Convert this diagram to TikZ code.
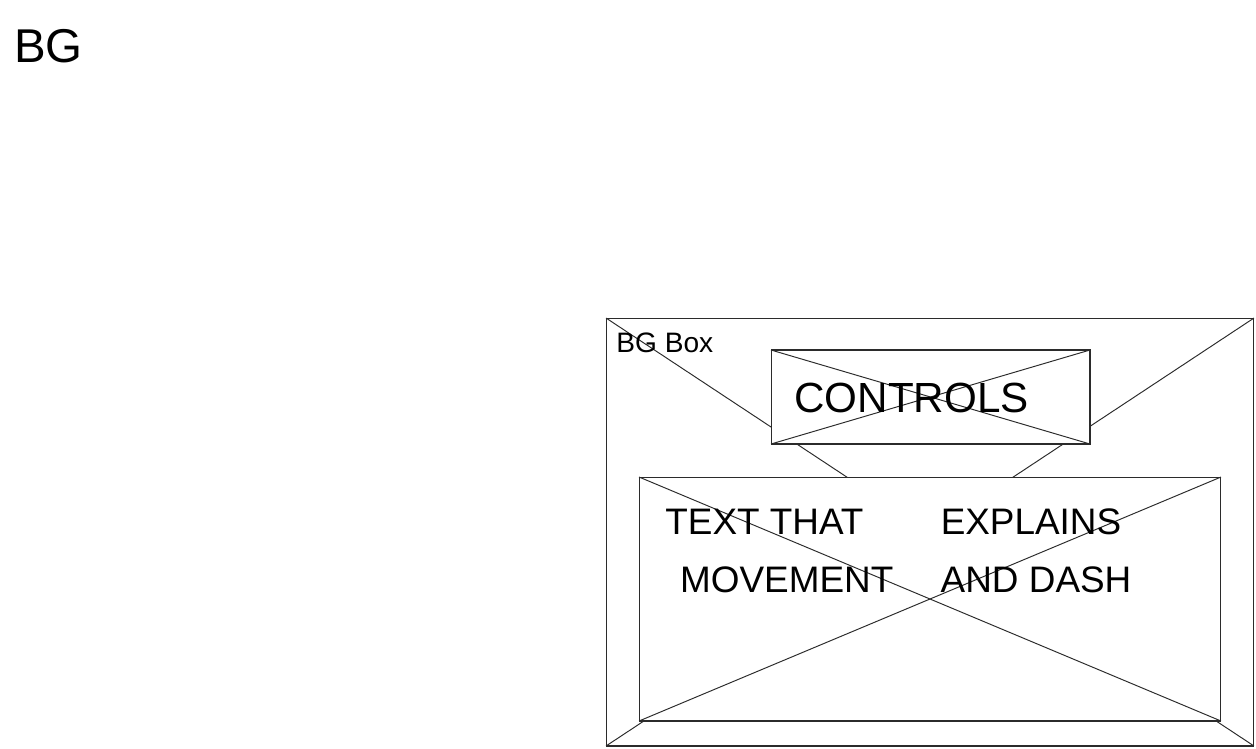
\documentclass[tikz,border=0pt]{standalone}
\usepackage{fontspec}
\setmainfont{Liberation Sans}
\usepackage{xcolor}
\usepackage{tikz}
\usetikzlibrary{positioning}
\definecolor{pen}{HTML}{2B2B2B}

\begin{document}
\begin{tikzpicture}[
  x=0.02cm,y=-0.02cm,
  frame/.style={draw=pen,line width=0.6pt,inner sep=0pt,outer sep=0pt},
  panel/.style={frame,fill=white},
  cross/.style={draw=pen,line width=0.55pt},
  label/.style={text=black,inner sep=0pt,anchor=west}
]
  \useasboundingbox (0,0) rectangle (1256,748);

  \node[label,font=\fontsize{27}{27}\selectfont] (bgtitle) at (14,46) {BG};

  \node[frame,minimum width=12.96cm,minimum height=8.56cm] (bgbox) at (930,532) {};
  \draw[cross] (bgbox.north west) -- (bgbox.south east);
  \draw[cross] (bgbox.north east) -- (bgbox.south west);

  \node[panel,minimum width=6.38cm,minimum height=1.88cm] (controls) at (930.5,397) {};
  \draw[cross] (controls.north west) -- (controls.south east);
  \draw[cross] (controls.north east) -- (controls.south west);

  \node[panel,minimum width=11.64cm,minimum height=4.88cm] (textbox) at (930,599) {};
  \draw[cross] (textbox.north west) -- (textbox.south east);
  \draw[cross] (textbox.north east) -- (textbox.south west);

  \node[label,font=\fontsize{16}{16}\selectfont] (bglabel) at (616,343) {BG Box};
  \node[label,font=\fontsize{24}{24}\selectfont] (ctrllabel) at (794,398) {CONTROLS};
  \node[label,font=\fontsize{21}{33}\selectfont,anchor=north west] (explain) at (665,494)
    {\begin{tabular}{@{}l@{\hspace{27pt}}l@{}}
       TEXT THAT & EXPLAINS\\
       \hspace*{0.4em}MOVEMENT & AND DASH
     \end{tabular}};
\end{tikzpicture}
\end{document}
